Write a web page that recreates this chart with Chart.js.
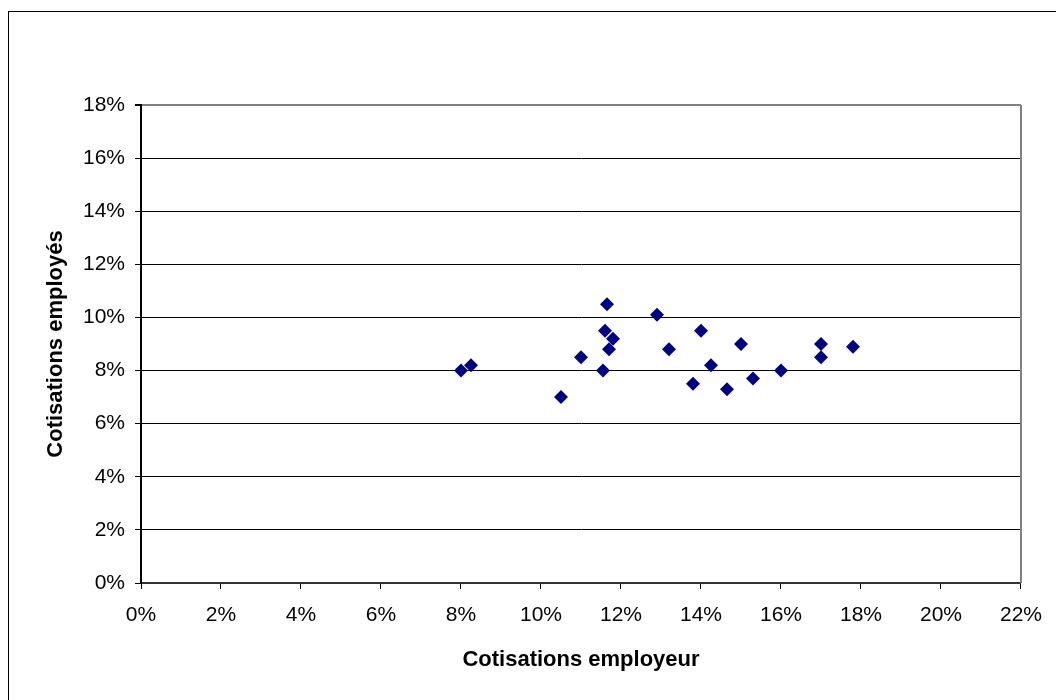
<!DOCTYPE html>
<html>
<head>
<meta charset="utf-8">
<script src="https://cdn.jsdelivr.net/npm/chart.js@4"></script>
<style>
  html, body { margin: 0; padding: 0; background: #fff; overflow: hidden; }
  #wrap { position: relative; width: 1056px; height: 700px; }
  #frame { position: absolute; left: 8px; top: 11px; width: 1100px; height: 760px; border: 1px solid #000; box-sizing: border-box; pointer-events: none; }
  canvas { position: absolute; left: 0; top: 0; }
</style>
</head>
<body>
<div id="wrap">
  <canvas id="graph" width="1056" height="700"></canvas>
  <div id="frame"></div>
</div>
<script>
// Cotisations employeur (x) et employés (y), en %
const employeur = [8.0, 8.25, 10.5, 11.0, 11.55, 11.6, 11.65, 11.7, 11.8, 12.9, 13.2,
                   13.8, 14.0, 14.25, 14.65, 15.0, 15.3, 16.0, 17.0, 17.0, 17.8];
const employes  = [8.0, 8.2, 7.0, 8.5, 8.0, 9.5, 10.5, 8.8, 9.2, 10.1, 8.8,
                   7.5, 9.5, 8.2, 7.3, 9.0, 7.7, 8.0, 9.0, 8.5, 8.9];

const xTitle = 'Cotisations employeur';
const yTitle = 'Cotisations employés';

const points = employeur.map((v, i) => ({ x: v, y: employes[i] }));

// bordure grise du cadre de tracé (côté droit)
const plotBorder = {
  id: 'plotBorder',
  afterDatasetsDraw(chart) {
    const a = chart.chartArea;
    const c = chart.ctx;
    c.save();
    c.strokeStyle = '#808080';
    c.lineWidth = 2;
    c.beginPath();
    c.moveTo(a.right, a.top);
    c.lineTo(a.right, a.bottom);
    c.stroke();
    c.restore();
  }
};

const font = { family: '"Liberation Sans", Arial, sans-serif', size: 21 };
const titleFont = { family: font.family, size: 22, weight: 'bold' };

new Chart(document.getElementById('graph'), {
  type: 'scatter',
  data: {
    datasets: [{
      data: points,
      pointStyle: 'rectRot',
      pointRadius: 7,
      pointHoverRadius: 7,
      backgroundColor: '#000080',
      borderColor: '#000080',
      borderWidth: 0
    }]
  },
  options: {
    responsive: false,
    animation: false,
    layout: { padding: { left: 43, top: 105, right: 35, bottom: 27 } },
    plugins: { legend: { display: false }, tooltip: { enabled: false } },
    scales: {
      x: {
        min: 0, max: 22,
        ticks: { stepSize: 2, color: '#000', font: font, padding: 14, maxRotation: 0,
                 callback: v => v + '%' },
        grid: { drawOnChartArea: false, drawTicks: true, tickLength: 6, color: '#000' },
        border: { color: '#333', width: 2 },
        title: { display: true, text: xTitle, color: '#000', font: titleFont,
                 padding: { top: 1, bottom: 0 } },
        afterFit: s => { s.height = 90; }
      },
      y: {
        min: 0, max: 18,
        ticks: { stepSize: 2, color: '#000', font: font, padding: 10,
                 callback: v => v + '%' },
        grid: { color: ctx => ctx.tick && ctx.tick.value === 18 ? '#808080' : '#000',
                lineWidth: ctx => ctx.tick && ctx.tick.value === 18 ? 2 : 1,
                tickLength: 6, tickColor: '#000' },
        border: { color: '#000', width: 2 },
        title: { display: true, text: yTitle, color: '#000', font: titleFont,
                 padding: { top: 0, bottom: 0 } },
        afterFit: s => { s.width = 98; }
      }
    }
  },
  plugins: [plotBorder]
});
</script>
</body>
</html>
